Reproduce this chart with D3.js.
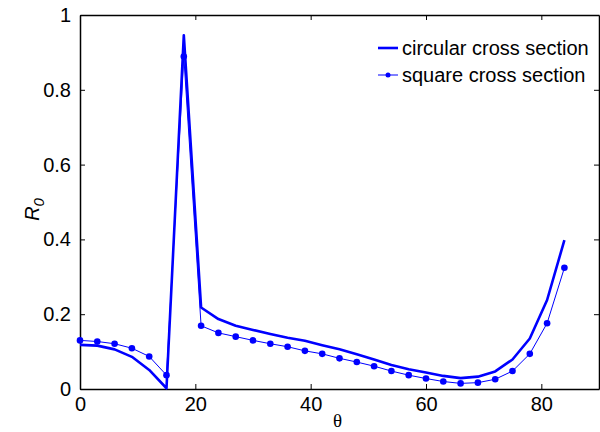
<!DOCTYPE html>
<html>
<head>
<meta charset="utf-8">
<script src="https://cdn.jsdelivr.net/npm/d3@7"></script>
<style>
  body { margin: 0; background: #fff; }
  text { font-family: "Liberation Sans", Arial, sans-serif; }
</style>
</head>
<body>
<div id="chart"></div>
<script>
// data
var theta = [0, 3, 6, 9, 12, 15, 18, 21, 24, 27, 30, 33, 36, 39, 42, 45, 48, 51, 54, 57, 60, 63, 66, 69, 72, 75, 78, 81, 84];
var circular = [0.118, 0.116, 0.106, 0.086, 0.051, 0.002, 0.946, 0.218, 0.187, 0.169, 0.158, 0.147, 0.137, 0.129, 0.117, 0.106, 0.093, 0.079, 0.064, 0.053, 0.044, 0.035, 0.029, 0.033, 0.047, 0.079, 0.135, 0.238, 0.398];
var square = [0.130, 0.127, 0.121, 0.109, 0.087, 0.037, 0.889, 0.169, 0.150, 0.140, 0.130, 0.121, 0.113, 0.102, 0.094, 0.082, 0.072, 0.061, 0.048, 0.037, 0.028, 0.020, 0.015, 0.017, 0.026, 0.048, 0.094, 0.176, 0.324];
var xTicks = [0, 20, 40, 60, 80];
var yTicks = [0, 0.2, 0.4, 0.6, 0.8, 1];
var legendNames = ["circular cross section", "square cross section"];

var margin = {top: 15, right: 1, bottom: 43, left: 80},
    width = 600 - margin.left - margin.right,
    height = 432 - margin.top - margin.bottom;

var svg = d3.select("#chart")
  .append("svg")
    .attr("width", 600)
    .attr("height", 432)
  .append("g")
    .attr("transform", "translate(" + margin.left + "," + margin.top + ")");

var x = d3.scaleLinear().domain([0, 90]).range([0, width]);
var y = d3.scaleLinear().domain([0, 1]).range([height, 0]);

// axes with inward ticks, MATLAB style box
var tickLen = 5;
var gx = svg.append("g")
  .attr("transform", "translate(0," + height + ")")
  .call(d3.axisBottom(x).tickValues(xTicks).tickSizeInner(-tickLen).tickSizeOuter(0).tickPadding(8).tickFormat(d3.format("d")));
var gy = svg.append("g")
  .call(d3.axisLeft(y).tickValues(yTicks).tickSizeInner(-tickLen).tickSizeOuter(0).tickPadding(9).tickFormat(function(d) { return d === 0 || d === 1 ? d : d3.format(".1f")(d); }));
var gx2 = svg.append("g")
  .call(d3.axisTop(x).tickValues(xTicks).tickSizeInner(-tickLen).tickSizeOuter(0).tickFormat(""));
var gy2 = svg.append("g")
  .attr("transform", "translate(" + width + ",0)")
  .call(d3.axisRight(y).tickValues(yTicks).tickSizeInner(-tickLen).tickSizeOuter(0).tickFormat(""));

[gx, gy, gx2, gy2].forEach(function(g) {
  g.select(".domain").attr("stroke", "#000").attr("stroke-width", 1.5);
  g.selectAll(".tick line").attr("stroke", "#000").attr("stroke-width", 1);
  g.selectAll(".tick text")
    .style("font-family", "'Liberation Sans', Arial, sans-serif")
    .style("font-size", "20px")
    .attr("fill", "#000");
});

// axis labels
svg.append("text")
  .attr("x", x(45) - 2)
  .attr("y", height + 38)
  .attr("text-anchor", "middle")
  .style("font-family", "'Liberation Serif', 'Times New Roman', serif")
  .style("font-size", "19px")
  .text("θ");

var ylab = svg.append("text")
  .attr("transform", "translate(" + (-41) + "," + (y(0.48)) + ") rotate(-90)")
  .attr("text-anchor", "middle")
  .style("font-size", "20px")
  .style("font-style", "italic");
ylab.append("tspan").text("R");
ylab.append("tspan").attr("dy", 5).style("font-size", "15px").text("0");

var pts = theta.map(function(t, i) { return {t: t, c: circular[i], s: square[i]}; });

svg.append("path")
  .datum(pts)
  .attr("fill", "none")
  .attr("stroke", "#0000ff")
  .attr("stroke-width", 2.6)
  .attr("stroke-linejoin", "round")
  .attr("d", d3.line().x(function(d) { return x(d.t); }).y(function(d) { return y(d.c); }));

svg.append("path")
  .datum(pts)
  .attr("fill", "none")
  .attr("stroke", "#0000ff")
  .attr("stroke-width", 1)
  .attr("d", d3.line().x(function(d) { return x(d.t); }).y(function(d) { return y(d.s); }));

svg.selectAll(".dot")
  .data(pts)
  .enter().append("circle")
    .attr("class", "dot")
    .attr("cx", function(d) { return x(d.t); })
    .attr("cy", function(d) { return y(d.s); })
    .attr("r", 3.3)
    .attr("fill", "#0000ff");

// legend
var leg = svg.append("g").attr("transform", "translate(" + (378 - margin.left) + "," + (48 - margin.top) + ")");
legendNames.forEach(function(name, i) {
  var row = leg.append("g").attr("transform", "translate(0," + (i * 27) + ")");
  row.append("line")
    .attr("x1", 0).attr("x2", 20).attr("y1", 0).attr("y2", 0)
    .attr("stroke", "#0000ff")
    .attr("stroke-width", i === 0 ? 2.6 : 1);
  if (i === 1) {
    row.append("circle").attr("cx", 10).attr("cy", 0).attr("r", 2.5).attr("fill", "#0000ff");
  }
  row.append("text")
    .attr("x", 24)
    .attr("y", 0)
    .attr("dy", "0.35em")
    .style("font-size", "20px")
    .attr("fill", "#000")
    .text(name);
});
</script>
</body>
</html>
